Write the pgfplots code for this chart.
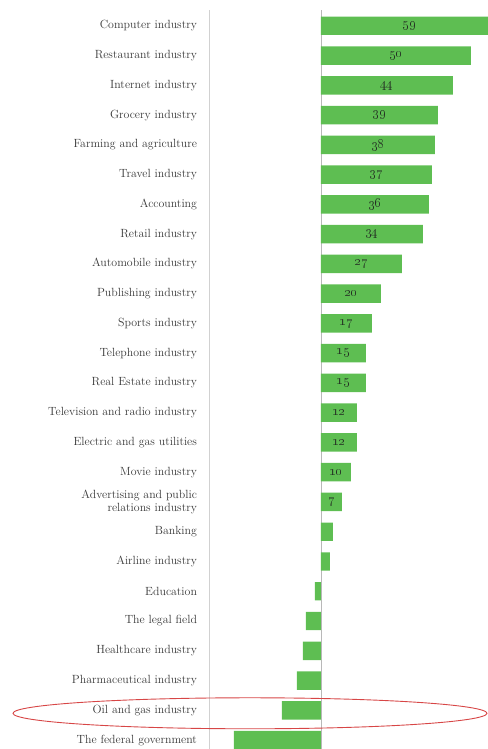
\documentclass[border=0pt]{standalone}
\usepackage{pgfplots}
\usepackage{pgfplotstable}
\pgfplotsset{compat=1.18}
\definecolor{barg}{RGB}{94,190,82}
\definecolor{lblc}{RGB}{55,55,55}
\definecolor{numc}{RGB}{35,45,35}
\definecolor{ellc}{RGB}{215,70,70}

\pgfplotstableread{
y v
24 59
23 50
22 44
21 39
20 38
19 37
18 36
17 34
16 27
15 20
14 17
13 15
12 15
11 12
10 12
9 10
8 7
7 4
6 3
5 -2
4 -5
3 -6
2 -8
1 -13
0 -29
}\datatable

\pgfplotstableread{
y v
24 59
23 50
22 44
21 39
20 38
19 37
18 36
17 34
16 27
15 20
14 17
13 15
12 15
11 12
10 12
9 10
8 7
}\labtable

\begin{document}
\begin{tikzpicture}
\begin{axis}[
  scale only axis,
  width=279bp, height=739bp,
  xmin=-37.333, xmax=55.667,
  ymin=-0.30, ymax=24.53,
  axis x line=none,
  axis y line*=left,
  axis line style={draw=black!18, line width=0.8bp},
  xtick=\empty,
  ytick={0,...,24},
  ytick style={draw=none},
  major tick length=0pt,
  yticklabels={
    {The federal government},
    {Oil and gas industry},
    {Pharmaceutical industry},
    {Healthcare industry},
    {The legal field},
    {Education},
    {Airline industry},
    {Banking},
    {Advertising and public\\relations industry},
    {Movie industry},
    {Electric and gas utilities},
    {Television and radio industry},
    {Real Estate industry},
    {Telephone industry},
    {Sports industry},
    {Publishing industry},
    {Automobile industry},
    {Retail industry},
    {Accounting},
    {Travel industry},
    {Farming and agriculture},
    {Grocery industry},
    {Internet industry},
    {Restaurant industry},
    {Computer industry}},
  yticklabel style={anchor=east, align=right, xshift=-8.5bp,
    font=\fontsize{11.9}{12.6}\selectfont, text=lblc},
]
\draw[black!28, line width=0.7bp] (axis cs:0,-0.3) -- (axis cs:0,24.53);
\addplot[xbar, fill=barg, draw=none, bar width=0.62] table[x=v, y=y] {\datatable};
\addplot[draw=none, mark=none,
  nodes near coords={\oldstylenums{\pgfplotspointmeta}},
  nodes near coords align={center},
  every node near coord/.append style={font=\fontsize{13.5}{14}\selectfont, text=numc},
  point meta=explicit symbolic]
  table[x expr=\thisrow{v}/2, y=y, meta=v] {\labtable};
\coordinate (ec) at (axis cs:-23.67,0.9);
\coordinate (sw) at (rel axis cs:0,0);
\end{axis}
\draw[ellc, line width=0.9bp] (ec) ellipse [x radius=237bp, y radius=15.5bp];
\pgfresetboundingbox
\path (sw) ++(-209bp,0) rectangle ++(488bp,749bp);
\end{tikzpicture}
\end{document}
